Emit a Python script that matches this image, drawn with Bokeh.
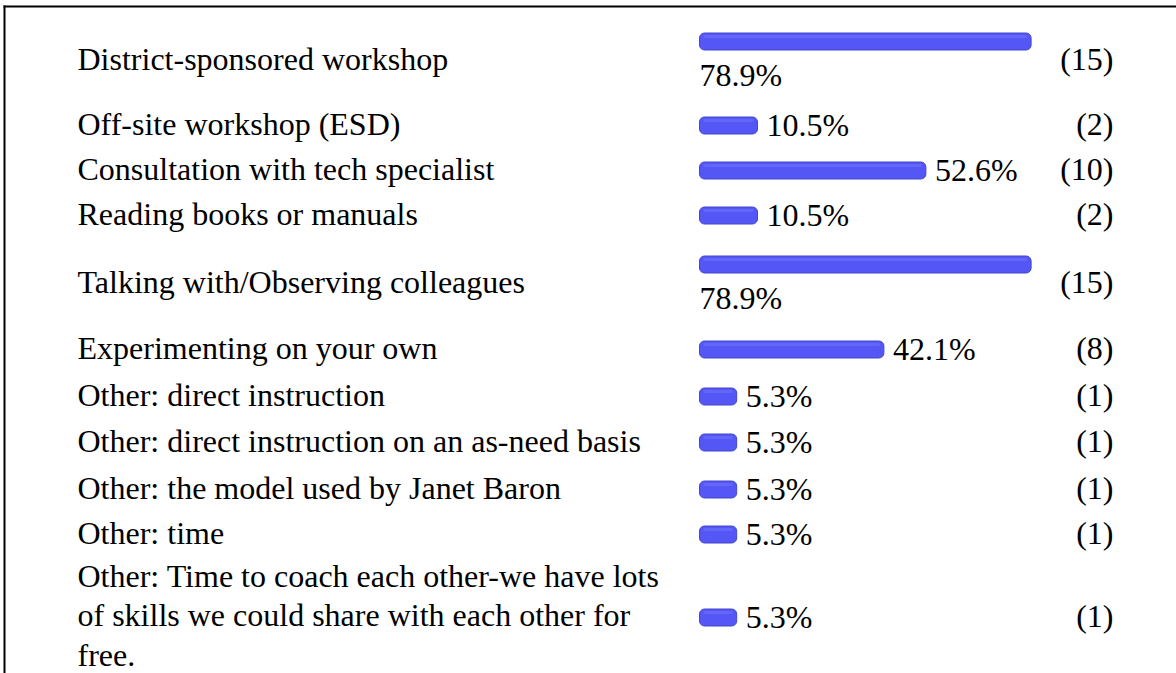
import textwrap
from bokeh.plotting import figure
from bokeh.models import Range1d
from bokeh.core.properties import value
from bokeh.embed import file_html
from bokeh.resources import INLINE

# ---------------- data ----------------
categories = [
    "District-sponsored workshop",
    "Off-site workshop (ESD)",
    "Consultation with tech specialist",
    "Reading books or manuals",
    "Talking with/Observing colleagues",
    "Experimenting on your own",
    "Other: direct instruction",
    "Other: direct instruction on an as-need basis",
    "Other: the model used by Janet Baron",
    "Other: time",
    "Other: Time to coach each other-we have lots of skills we could share with each other for free.",
]
percents = [78.9, 10.5, 52.6, 10.5, 78.9, 42.1, 5.3, 5.3, 5.3, 5.3, 5.3]
counts = [15, 2, 10, 2, 15, 8, 1, 1, 1, 1, 1]

# ---------------- layout (page pixels) ----------------
OX, OY = 0, 0              # page position of canvas origin
W, H = 1176, 673
ROW_Y = [58, 123, 168, 213, 281, 347, 394, 440, 487, 532, 615]   # text centres
LABEL_X = 77
BAR_X0 = 699               # left edge of bars
CAP = 8                    # rounded end padding of bars
K = 4.0                    # px per percent
COUNT_X = 1113
FONT = value("'Liberation Serif', 'Times New Roman', serif")
FS = "32px"
BAR_COLOR = "#5457F5"
BAR_LINE = "#4447CC"
BAR_HI = "#6E70F7"

ZERO = BAR_X0 + CAP


def px2x(px):
    return (px - ZERO) / K


def py(pg):
    return pg - OY


labels = [textwrap.fill(c, 45) for c in categories]
pct_text = [f"{v:.1f}%" for v in percents]
count_text = [f"({c})" for c in counts]

below = [ZERO + K * v + CAP + 90 > 1060 for v in percents]
bar_y = [py(y - 17) if b else py(y + 2) for y, b in zip(ROW_Y, below)]
pct_x = [px2x(BAR_X0) if b else v + (CAP + 9) / K for v, b in zip(percents, below)]
pct_y = [py(y + 16) if b else py(y + 1) for y, b in zip(ROW_Y, below)]
row_y = [py(y) for y in ROW_Y]

p = figure(
    width=W, height=H,
    x_range=Range1d(px2x(OX), px2x(OX + W)),
    y_range=Range1d(H, 0),
    x_axis_type=None, y_axis_type=None,
    output_backend="svg", toolbar_location=None,
    min_border=0, outline_line_color=None,
)
p.grid.visible = False

# border (top and left edges of the framing box)
p.segment(x0=[px2x(3), px2x(4)], y0=[py(6), py(5)],
          x1=[px2x(OX + W), px2x(4)], y1=[py(6), py(OY + H)],
          line_color="black", line_width=2)

# bars
p.hbar(y=bar_y, left=[-CAP / K] * len(percents), right=[v + CAP / K for v in percents],
       height=17, fill_color=BAR_COLOR, line_color=BAR_LINE, line_width=1,
       border_radius=5)
# soft top highlight of the bars
p.hbar(y=[b - 5 for b in bar_y], left=[-CAP / K + 1.0] * len(percents),
       right=[v + CAP / K - 1.0 for v in percents],
       height=3, fill_color=BAR_HI, line_color=None, fill_alpha=0.6,
       border_radius=1)

# category labels
p.text(x=[px2x(LABEL_X)] * len(labels), y=row_y, text=labels,
       text_font=FONT, text_font_size=FS, text_baseline="middle",
       text_align="left", text_line_height=1.1, text_color="black")

# percentages
p.text(x=pct_x, y=pct_y, text=pct_text, text_font=FONT, text_font_size=FS,
       text_baseline="middle", text_align="left", text_color="black")

# counts
p.text(x=[px2x(COUNT_X)] * len(counts), y=row_y, text=count_text,
       text_font=FONT, text_font_size=FS, text_baseline="middle",
       text_align="right", text_color="black")

open("out.html", "w").write(file_html(p, INLINE))
